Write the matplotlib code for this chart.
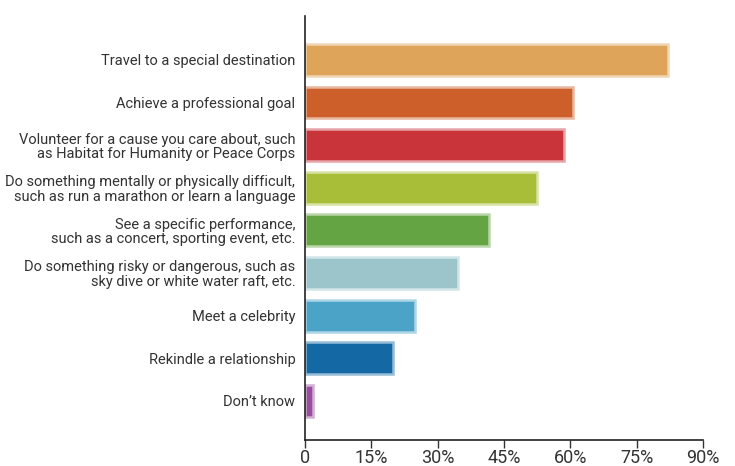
import matplotlib
matplotlib.use("Agg")
import matplotlib.pyplot as plt
import matplotlib.colors as mcolors
import numpy as np
from matplotlib import font_manager

categories = [
    "Travel to a special destination",
    "Achieve a professional goal",
    "Volunteer for a cause you care about, such\nas Habitat for Humanity or Peace Corps",
    "Do something mentally or physically difficult,\nsuch as run a marathon or learn a language",
    "See a specific performance,\nsuch as a concert, sporting event, etc.",
    "Do something risky or dangerous, such as\nsky dive or white water raft, etc.",
    "Meet a celebrity",
    "Rekindle a relationship",
    "Don\u2019t know",
]
values = [82, 60.5, 58.5, 52.4, 41.5, 34.7, 24.8, 19.8, 1.9]
colors = ["#DDA45A", "#CC5F2A", "#C9343B", "#A9BE38", "#65A443",
          "#9CC5CB", "#4BA3C8", "#1469A5", "#9A4D9E"]
xticks = [0, 15, 30, 45, 60, 75, 90]
xticklabels = ["0", "15%", "30%", "45%", "60%", "75%", "90%"]

names = {f.name for f in font_manager.fontManager.ttflist}
fam = "Liberation Sans Narrow" if "Liberation Sans Narrow" in names else "Roboto"
plt.rcParams["font.family"] = [fam, "DejaVu Sans"]

fig = plt.figure(figsize=(7.35, 4.66), dpi=100)
ax = fig.add_axes([0.415, 0.0558, 0.5415, 0.9099])

y = np.arange(len(categories))
for yi, v, c in zip(y, values, colors):
    rgb = np.array(mcolors.to_rgb(c))
    light = 1 - (1 - rgb) * 0.45
    ax.barh(yi, v, height=0.75, color=c, edgecolor=light, linewidth=1.8)

ax.set_ylim(8.92, -1.03)
ax.set_xlim(0, 90)
ax.set_yticks(y)
ax.set_yticklabels(categories, fontsize=10.5, color="#333333", linespacing=1.05)
ax.tick_params(axis="y", length=0, pad=7)
ax.set_xticks(xticks)
ax.set_xticklabels(xticklabels, fontsize=13, color="#333333")
ax.tick_params(axis="x", length=6, width=1, color="#333333", pad=0.5)
for s in ["top", "right"]:
    ax.spines[s].set_visible(False)
for s in ["left", "bottom"]:
    ax.spines[s].set_color("#222222")
    ax.spines[s].set_linewidth(1.2)

fig.savefig("out.png", dpi=100)
